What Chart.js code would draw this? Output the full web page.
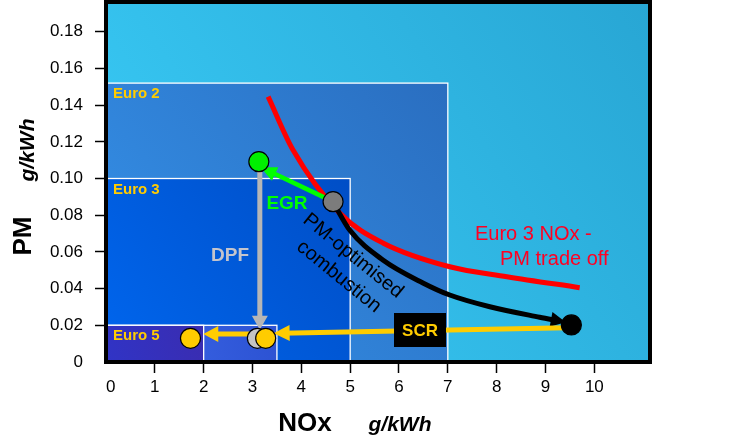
<!DOCTYPE html>
<html>
<head>
<meta charset="utf-8">
<script src="https://cdn.jsdelivr.net/npm/chart.js@4.4.1/dist/chart.umd.min.js"></script>
<style>
  html, body { margin: 0; padding: 0; background: #fff; }
  #wrap { width: 734px; height: 442px; position: relative; }
</style>
</head>
<body>
<div id="wrap"><canvas id="noxPm"></canvas></div>
<script>
// NOx / PM map: Euro limit boxes and the routes down to Euro 5

const xTicks = [0, 1, 2, 3, 4, 5, 6, 7, 8, 9, 10];
const xTickLabels = ['  0', '1', '2', '3', '4', '5', '6', '7', '8', '9', '10'];
const yTicks = [0, 0.02, 0.04, 0.06, 0.08, 0.10, 0.12, 0.14, 0.16, 0.18];
const yTickLabels = ['0', '0.02', '0.04', '0.06', '0.08', '0.10', '0.12', '0.14', '0.16', '0.18'];

// limit boxes (NOx limit, PM limit), drawn from the origin
const boxLabels = ['Euro 2', 'Euro 3', '', 'Euro 5'];
const boxNox = [7, 5, 3.5, 2];
const boxPm = [0.152, 0.10, 0.02, 0.02];

// Euro 3 NOx - PM trade off curve
const tradeOffNox = [3.32, 3.83, 4.79, 5.67, 7.04, 8.21, 9.70];
const tradeOffPm = [0.1446, 0.1155, 0.0810, 0.0649, 0.0519, 0.0465, 0.0405];

// PM-optimised combustion path
const combustionNox = [4.65, 4.99, 5.67, 6.49, 7.04, 7.86, 8.88, 9.28];
const combustionPm = [0.0872, 0.0719, 0.0556, 0.0431, 0.0365, 0.0301, 0.0244, 0.0224];

// straight arrows
const egrNox = [4.65, 3.30];
const egrPm = [0.0874, 0.1045];
const dpfNox = [3.15, 3.15];
const dpfPm = [0.1092, 0.0210];
const scrNox = [9.45, 3.58];
const scrPm = [0.0186, 0.0157];
const stepNox = [3.0, 2.13];
const stepPm = [0.0153, 0.0153];

// engine points: EGR, base, DPF, DPF+SCR, Euro 5, SCR start
const markerNox = [3.13, 4.65, 3.10, 3.27, 1.73, 9.53];
const markerPm = [0.1092, 0.0874, 0.0129, 0.0129, 0.0129, 0.0202];
const markerColours = ['#00f000', '#7c7c7c', '#c4c4c4', '#ffcc00', '#ffcc00', '#000000'];

const pts = (xs, ys) => xs.map((v, i) => ({ x: v, y: ys[i] }));

const boxShades = [
  ['#2a6ec0', '#3592ea'],
  ['#004ec6', '#0066ee'],
  ['#2c52d2', '#3e6aec'],
  ['#3a2cb0', '#3034c6']
];

const backdrop = {
  id: 'backdrop',
  beforeDatasetsDraw(chart) {
    const { ctx, chartArea: a, scales: { x, y } } = chart;
    ctx.save();
    const g = ctx.createLinearGradient(a.right, a.top, a.left, a.bottom);
    g.addColorStop(0, '#28a6d4');
    g.addColorStop(1, '#3acdf8');
    ctx.fillStyle = g;
    ctx.fillRect(a.left, a.top, a.width, a.height);
    boxNox.forEach((n, i) => {
      const l = x.getPixelForValue(0), r = x.getPixelForValue(n);
      const t = y.getPixelForValue(boxPm[i]), b = y.getPixelForValue(0);
      const gg = ctx.createLinearGradient(r, t, l, b);
      gg.addColorStop(0, boxShades[i][0]);
      gg.addColorStop(1, boxShades[i][1]);
      ctx.fillStyle = gg;
      ctx.fillRect(l, t, r - l, b - t);
      ctx.strokeStyle = '#ffffff';
      ctx.lineWidth = 1.3;
      ctx.strokeRect(l, t, r - l, b - t);
      if (boxLabels[i]) {
        ctx.fillStyle = '#ffcc00';
        ctx.font = 'bold 15px "Liberation Sans", Arial, sans-serif';
        ctx.textAlign = 'left';
        ctx.textBaseline = 'middle';
        ctx.fillText(boxLabels[i], l + 7, t + 11);
      }
    });
    ctx.restore();
  }
};

// arrow heads on the datasets that ask for one
const arrowHeads = {
  id: 'arrowHeads',
  afterDatasetDraw(chart, args) {
    const ds = chart.data.datasets[args.index];
    if (!ds.arrowHead) return;
    const els = args.meta.data;
    const tip = els[els.length - 1], prev = els[els.length - 2];
    let fx = prev.x, fy = prev.y;
    if (ds.cubicInterpolationMode && tip.cp1x !== undefined) { fx = tip.cp1x; fy = tip.cp1y; }
    const ang = Math.atan2(tip.y - fy, tip.x - fx);
    const [len, half] = ds.arrowHead;
    const ctx = chart.ctx;
    ctx.save();
    ctx.translate(tip.x, tip.y);
    ctx.rotate(ang);
    ctx.beginPath();
    ctx.moveTo(len * 0.45, 0);
    ctx.lineTo(-len * 0.55, -half);
    ctx.lineTo(-len * 0.55, half);
    ctx.closePath();
    ctx.fillStyle = ds.borderColor;
    ctx.fill();
    ctx.restore();
  }
};

const notes = {
  id: 'notes',
  afterDraw(chart) {
    const { ctx, chartArea: a } = chart;
    const font = (s) => s + ' "Liberation Sans", Arial, sans-serif';
    ctx.save();
    ctx.textAlign = 'center';
    ctx.textBaseline = 'middle';

    ctx.fillStyle = '#00ff00';
    ctx.font = font('bold 19px');
    ctx.fillText('EGR', 287, 204);

    ctx.fillStyle = '#c4c4cc';
    ctx.fillText('DPF', 230, 256);

    ctx.fillStyle = '#000';
    ctx.fillRect(394, 313, 52, 34);
    ctx.fillStyle = '#ffcc00';
    ctx.font = font('bold 17px');
    ctx.fillText('SCR', 420, 331);

    ctx.fillStyle = '#ff0022';
    ctx.font = font('20px');
    ctx.textAlign = 'left';
    ctx.fillText('Euro 3 NOx -', 475, 234);
    ctx.fillText('PM trade off', 500, 259);

    ctx.save();
    ctx.translate(353, 256);
    ctx.rotate(39 * Math.PI / 180);
    ctx.fillStyle = '#000';
    ctx.textAlign = 'center';
    ctx.fillText('PM-optimised', 0, 0);
    ctx.fillText('combustion', 2, 25);
    ctx.restore();

    // axis titles
    ctx.fillStyle = '#000';
    ctx.textAlign = 'center';
    ctx.font = font('bold 26px');
    ctx.fillText('NOx', 305, 424);
    ctx.font = font('italic bold 21px');
    ctx.fillText('g/kWh', 400, 425);
    ctx.save();
    ctx.translate(24, 236);
    ctx.rotate(-Math.PI / 2);
    ctx.font = font('bold 26px');
    ctx.fillText('PM', 0, 0);
    ctx.restore();
    ctx.save();
    ctx.translate(28, 150);
    ctx.rotate(-Math.PI / 2);
    ctx.font = font('italic bold 21px');
    ctx.fillText('g/kWh', 0, 0);
    ctx.restore();

    // frame
    ctx.strokeStyle = '#000';
    ctx.lineWidth = 4;
    ctx.strokeRect(a.left, a.top, a.width, a.height);
    ctx.restore();
  }
};

const arrowLine = (label, xs, ys, colour, width, head) => ({
  label, data: pts(xs, ys), showLine: true, borderColor: colour, backgroundColor: colour,
  borderWidth: width, pointRadius: 0, pointHoverRadius: 0, arrowHead: head
});

const tickColour = (c) => (c.tick && c.tick.value === 0 ? 'rgba(0,0,0,0)' : '#000');

new Chart(document.getElementById('noxPm'), {
  type: 'scatter',
  data: {
    datasets: [
      {
        label: 'Engine points',
        data: pts(markerNox, markerPm),
        pointRadius: 10,
        pointHoverRadius: 10,
        pointBackgroundColor: markerColours,
        pointBorderColor: '#000',
        pointBorderWidth: 1.2
      },
      arrowLine('SCR', scrNox, scrPm, '#ffcc00', 5, [16, 8]),
      arrowLine('Euro 5 step', stepNox, stepPm, '#ffcc00', 5, [15, 8]),
      arrowLine('DPF', dpfNox, dpfPm, '#b6b6b6', 5, [14, 8]),
      arrowLine('EGR', egrNox, egrPm, '#00ff00', 4.5, [16, 7.5]),
      Object.assign(arrowLine('PM-optimised combustion', combustionNox, combustionPm, '#000000', 5, [15, 7.5]),
        { cubicInterpolationMode: 'monotone' }),
      Object.assign(arrowLine('Euro 3 NOx - PM trade off', tradeOffNox, tradeOffPm, '#ff0000', 5, null),
        { cubicInterpolationMode: 'monotone' })
    ]
  },
  options: {
    responsive: true,
    maintainAspectRatio: false,
    animation: false,
    layout: { autoPadding: false, padding: { top: 2, right: 84, left: 0, bottom: 0 } },
    plugins: {
      legend: { display: false },
      tooltip: { enabled: false }
    },
    scales: {
      x: {
        type: 'linear',
        min: 0,
        max: 11.14,
        afterFit: (s) => { s.height = 80; s.paddingLeft = 0; s.paddingRight = 0; },
        afterBuildTicks: (s) => { s.ticks = xTicks.map((v) => ({ value: v })); },
        border: { display: false },
        grid: { drawOnChartArea: false, drawTicks: true, tickLength: 11, tickWidth: 1.5, tickColor: tickColour },
        ticks: {
          color: '#000',
          padding: 4,
          maxRotation: 0,
          font: { family: '"Liberation Sans", Arial, sans-serif', size: 17 },
          callback: (v) => xTickLabels[xTicks.indexOf(v)]
        }
      },
      y: {
        type: 'linear',
        min: 0,
        max: 0.1962,
        afterFit: (s) => { s.width = 106; s.paddingTop = 0; s.paddingBottom = 0; },
        afterBuildTicks: (s) => { s.ticks = yTicks.map((v) => ({ value: v })); },
        border: { display: false },
        grid: { drawOnChartArea: false, drawTicks: true, tickLength: 11, tickWidth: 1.5, tickColor: tickColour },
        ticks: {
          color: '#000',
          padding: 12,
          font: { family: '"Liberation Sans", Arial, sans-serif', size: 17 },
          callback: (v) => yTickLabels[yTicks.findIndex((t) => Math.abs(t - v) < 1e-9)]
        }
      }
    }
  },
  plugins: [backdrop, arrowHeads, notes]
});
</script>
</body>
</html>
